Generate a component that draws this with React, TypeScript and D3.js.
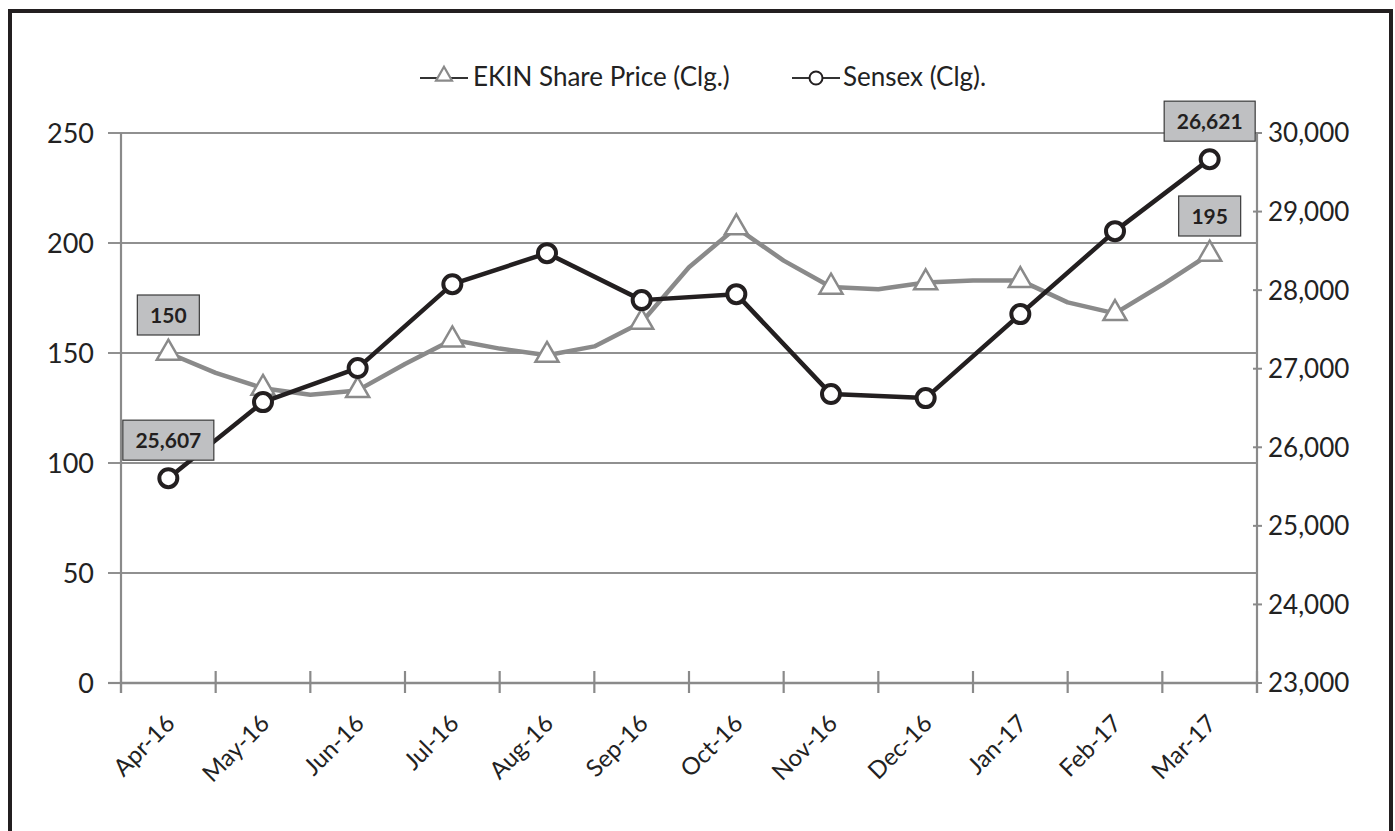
import React, { useEffect } from "react";
import * as d3 from "d3";

const months = ["Apr-16", "May-16", "Jun-16", "Jul-16", "Aug-16", "Sep-16", "Oct-16", "Nov-16", "Dec-16", "Jan-17", "Feb-17", "Mar-17"];
// EKIN closing price, one value per month (left axis)
const ekinPrice = [150, 134, 133, 156, 149, 164, 207, 180, 182, 183, 168, 195];
// the grey line also bends between the months, values read at the month boundaries
const ekinBetween = [141, 131, 145, 152, 153, 189, 192, 179, 183, 173, 181];
// Sensex closing (right axis)
const sensex = [25607, 26575, 27008, 28076, 28471, 27873, 27949, 26677, 26626, 27695, 28751, 29667];

const leftTicks = [0, 50, 100, 150, 200, 250];
const rightTicks = [23000, 24000, 25000, 26000, 27000, 28000, 29000, 30000];

const ekinLabels = [{ index: 0, text: "150" }, { index: 11, text: "195" }];
const sensexLabels = [{ index: 0, text: "25,607" }, { index: 11, text: "26,621" }];

const legendNames = ["EKIN Share Price (Clg.)", "Sensex (Clg)."];

const W = 1395;
const H = 831;
const FONT = "Lato, 'Open Sans', sans-serif";
const GREY = "#8a8a8a";
const BLACK = "#231f20";

const App = () => {
    useEffect(() => {
        document.body.style.margin = "0";
    }, []);

    const margin = { top: 133, right: 138, bottom: 148, left: 121 };

    const x = d3.scaleBand<string>()
        .domain(months)
        .range([margin.left, W - margin.right])
        .padding(0);

    const yLeft = d3.scaleLinear().domain([0, 250]).range([H - margin.bottom, margin.top]);
    const yRight = d3.scaleLinear().domain([23000, 30000]).range([H - margin.bottom, margin.top]);

    const cx = (i: number) => (x(months[i]) as number) + x.bandwidth() / 2;
    const x0 = margin.left;
    const x1 = W - margin.right;
    const yBase = H - margin.bottom;

    // grey line points: month centres plus the bends at the boundaries
    const ekinPts: [number, number][] = [];
    ekinPrice.forEach((v, i) => {
        ekinPts.push([cx(i), yLeft(v)]);
        if (i < ekinBetween.length) {
            ekinPts.push([x(months[i + 1]) as number, yLeft(ekinBetween[i])]);
        }
    });
    const line = d3.line();
    const sensexPts: [number, number][] = sensex.map((v, i) => [cx(i), yRight(v)]);

    const tri = d3.symbol().type(d3.symbolTriangle).size(230)();
    const triSmall = d3.symbol().type(d3.symbolTriangle).size(110)();

    const boxWidth = (t: string) => t.replace(/,/g, "").length * 12 + (t.split(",").length - 1) * 5 + 26;

    const boundaries = months.map((m) => x(m) as number).concat([x1]);

    const label = (px: number, py: number, text: string, key: string) => {
        const w = boxWidth(text);
        return (
            <g key={key} transform={`translate(${px},${py - 38})`}>
                <rect x={-w / 2} y={-20} width={w} height={40} fill="#bfc0c2" stroke="#3a3a3a" strokeWidth={1.2} />
                <text textAnchor="middle" dy="0.36em" fontSize={21} fontWeight="bold" fill="#231f20">{text}</text>
            </g>
        );
    };

    return (
        <svg width={W} height={H} style={{ display: "block", background: "#fff" }} fontFamily={FONT}>
            <rect x={10} y={11} width={1381} height={900} fill="none" stroke={BLACK} strokeWidth={4} />

            {/* legend */}
            <g transform="translate(420,77)">
                <line x1={0} x2={48} y1={1} y2={1} stroke="#333" strokeWidth={2} />
                <path d={triSmall} transform="translate(24,-1)" fill="#fff" stroke={GREY} strokeWidth={2.2} />
                <text x={53} dy="0.35em" fontSize={26} fill="#222">{legendNames[0]}</text>
                <line x1={372} x2={420} y1={1} y2={1} stroke="#333" strokeWidth={2} />
                <circle cx={396} cy={1} r={6.5} fill="#fff" stroke={BLACK} strokeWidth={2} />
                <text x={423} dy="0.35em" fontSize={26} fill="#222">{legendNames[1]}</text>
            </g>

            {/* gridlines */}
            {leftTicks.filter((t) => t > 0).map((t) => (
                <line key={t} x1={x0 - 13} x2={x1} y1={yLeft(t)} y2={yLeft(t)} stroke="#909090" strokeWidth={2.2} />
            ))}
            {/* left axis */}
            <line x1={x0} x2={x0} y1={margin.top} y2={yBase + 10} stroke="#8a8a8a" strokeWidth={2.2} />
            <line x1={x0 - 13} x2={x0} y1={yBase} y2={yBase} stroke="#8a8a8a" strokeWidth={2.2} />
            {leftTicks.map((t) => (
                <text key={t} x={x0 - 27} y={yLeft(t)} dy="0.36em" textAnchor="end" fontSize={27} fill="#222">{t}</text>
            ))}
            {/* right axis */}
            <line x1={x1} x2={x1} y1={margin.top} y2={yBase + 10} stroke="#8a8a8a" strokeWidth={2.2} />
            {rightTicks.map((t) => (
                <g key={t}>
                    <line x1={x1 - 4} x2={x1 + 5} y1={yRight(t)} y2={yRight(t)} stroke="#8a8a8a" strokeWidth={2} />
                    <text x={x1 + 11} y={yRight(t)} dy="0.36em" fontSize={26} fill="#222">{d3.format(",")(t)}</text>
                </g>
            ))}
            {/* category axis */}
            <line x1={x0} x2={x1} y1={yBase} y2={yBase} stroke="#8a8a8a" strokeWidth={2.5} />
            {boundaries.map((b, i) => (
                <line key={i} x1={b} x2={b} y1={yBase - 12} y2={yBase + 10} stroke="#8a8a8a" strokeWidth={2.2} />
            ))}
            {months.map((m, i) => (
                <text key={m} transform={`translate(${cx(i) + 2},${yBase + 36}) rotate(-45)`} textAnchor="end" dy="0.35em" fontSize={24} fill="#222">{m}</text>
            ))}

            {/* EKIN */}
            <path d={line(ekinPts) as string} fill="none" stroke={GREY} strokeWidth={4.5} strokeLinejoin="round" />
            {ekinPrice.map((v, i) => (
                <path key={i} d={tri as string} transform={`translate(${cx(i)},${yLeft(v)})`} fill="#fff" stroke={GREY} strokeWidth={2.5} />
            ))}

            {/* Sensex */}
            <path d={line(sensexPts) as string} fill="none" stroke={BLACK} strokeWidth={4.5} strokeLinejoin="round" />
            {sensex.map((v, i) => (
                <circle key={i} cx={cx(i)} cy={yRight(v)} r={9} fill="#fff" stroke={BLACK} strokeWidth={4} />
            ))}

            {ekinLabels.map((l) => label(cx(l.index), yLeft(ekinPrice[l.index]), l.text, "e" + l.index))}
            {sensexLabels.map((l) => label(cx(l.index), yRight(sensex[l.index]), l.text, "s" + l.index))}
        </svg>
    );
};

export default App;
